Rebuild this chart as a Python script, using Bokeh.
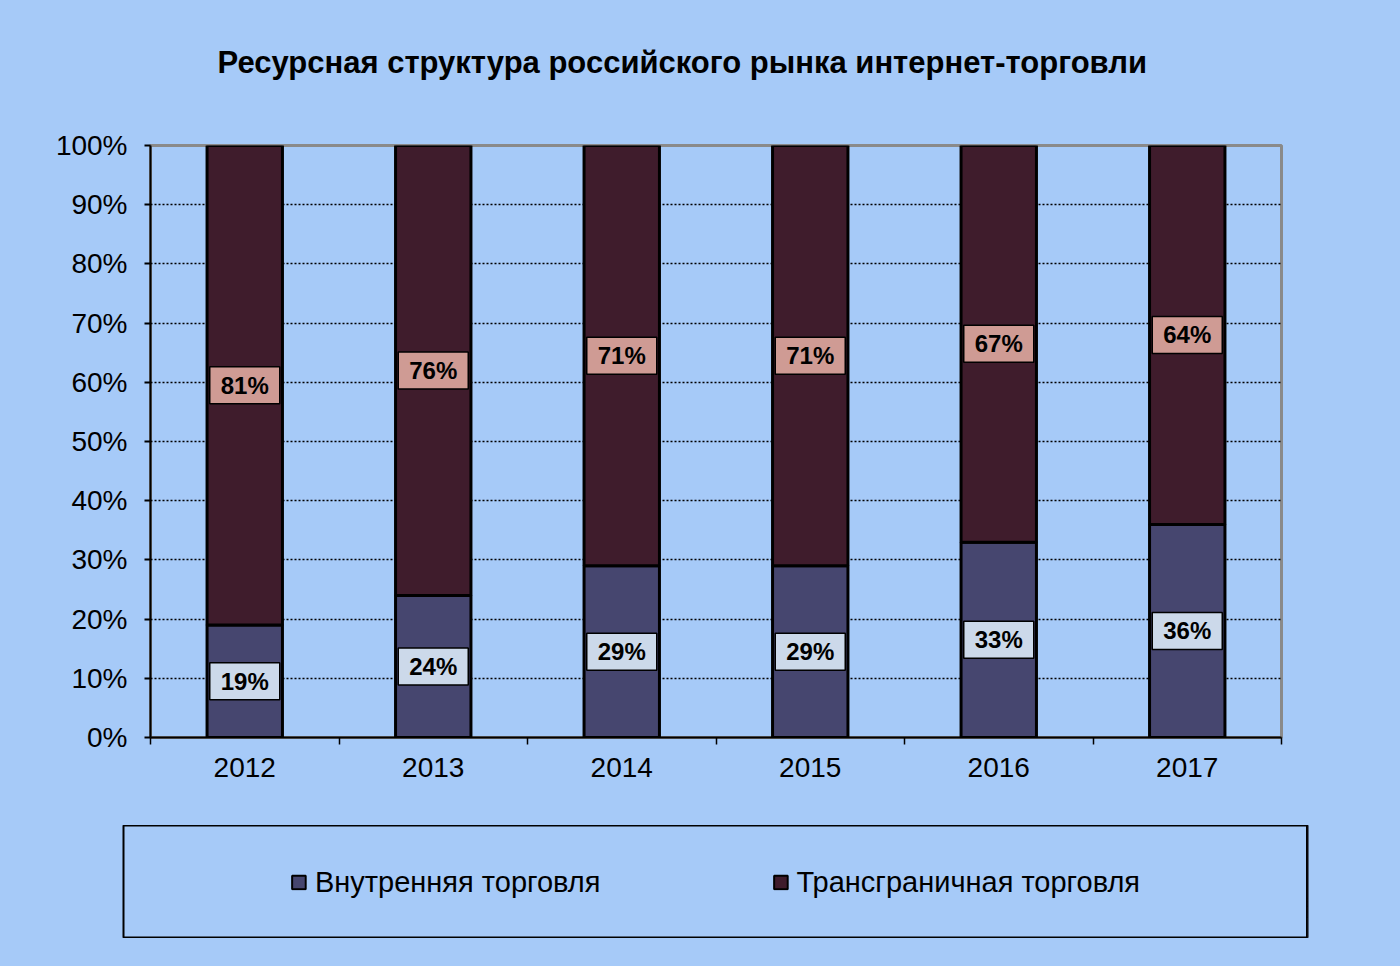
from bokeh.plotting import figure
from bokeh.models import Range1d, FixedTicker, ColumnDataSource, Legend, LegendItem, Title
from bokeh.layouts import column
from bokeh.core.properties import value
from bokeh.embed import file_html
from bokeh.resources import INLINE

# ---- data ----
years = ["2012", "2013", "2014", "2015", "2016", "2017"]
domestic = [19, 24, 29, 29, 33, 36]
crossborder = [81, 76, 71, 71, 67, 64]
y_ticks = [0, 10, 20, 30, 40, 50, 60, 70, 80, 90, 100]
y_tick_labels = ["0%", "10%", "20%", "30%", "40%", "50%", "60%", "70%", "80%", "90%", "100%"]
series_names = ["Внутренняя торговля", "Трансграничная торговля"]
title_text = "Ресурсная структура российского рынка интернет-торговли"

# ---- styles ----
BG = "#A6CAF8"
DOM = "#46466F"
CROSS = "#3F1C2C"
DOM_LBL = "#CCD9EA"
CROSS_LBL = "#CF9B94"
FONT = "Liberation Sans"

BORDER_L, BORDER_R = 150, 93

xs = [i + 0.5 for i in range(len(years))]
src = ColumnDataSource(dict(
    x=xs,
    dom=domestic,
    top=[d + c for d, c in zip(domestic, crossborder)],
    dom_mid=[d / 2 for d in domestic],
    cross_mid=[d + c / 2 for d, c in zip(domestic, crossborder)],
    dom_lbl=[f"{d}%" for d in domestic],
    cross_lbl=[f"{c}%" for c in crossborder],
))

p = figure(width=1281 + BORDER_R, height=815, x_range=Range1d(0, len(years)),
           y_range=Range1d(0, 100), output_backend="svg", toolbar_location=None,
           min_border_left=BORDER_L, min_border_right=BORDER_R, min_border_top=145,
           min_border_bottom=78, title=title_text)
p.background_fill_color = BG
p.border_fill_color = BG
p.outline_line_color = "#8A8A8A"
p.outline_line_width = 3

p.title.align = "left"
p.title.offset = 67
p.title.standoff = 10
p.title.text_font = FONT
p.title.text_font_size = "31px"
p.title.text_font_style = "bold"
p.title.text_color = "black"
# blank spacer panel between the title and the plot area
p.add_layout(Title(text=" ", text_font_size="1px", standoff=58), "above")

# bars
p.vbar(x="x", bottom=0, top="dom", width=0.4, fill_color=DOM, line_color="black",
       line_width=3, source=src)
p.vbar(x="x", bottom="dom", top="top", width=0.4, fill_color=CROSS, line_color="black",
       line_width=3, source=src)

# value labels
p.rect(x="x", y="dom_mid", width=70, height=37, width_units="screen", height_units="screen",
       fill_color=DOM_LBL, line_color="black", line_width=1.5, source=src)
p.rect(x="x", y="cross_mid", width=70, height=37, width_units="screen", height_units="screen",
       fill_color=CROSS_LBL, line_color="black", line_width=1.5, source=src)
for col in (("dom_mid", "dom_lbl"), ("cross_mid", "cross_lbl")):
    p.text(x="x", y=col[0], text=col[1], source=src, text_align="center",
           text_baseline="middle", text_font=value(FONT), text_font_style="bold",
           text_font_size="24px", text_color="black")

# axes
p.yaxis.ticker = FixedTicker(ticks=y_ticks)
p.yaxis.major_label_overrides = {t: l for t, l in zip(y_ticks, y_tick_labels)}
p.yaxis.minor_tick_line_color = None
p.yaxis.major_tick_in = 0
p.yaxis.major_tick_out = 6
p.yaxis.major_tick_line_width = 2
p.yaxis.major_label_standoff = 17
p.xaxis.ticker = FixedTicker(ticks=xs, minor_ticks=list(range(len(years) + 1)))
p.xaxis.major_label_overrides = {x: y for x, y in zip(xs, years)}
p.xaxis.major_tick_line_color = None
p.xaxis.minor_tick_in = 0
p.xaxis.minor_tick_out = 7
p.xaxis.minor_tick_line_color = "black"
p.xaxis.minor_tick_line_width = 1.5
p.xaxis.major_label_standoff = 13
for ax in (p.xaxis[0], p.yaxis[0]):
    ax.axis_line_color = "black"
    ax.axis_line_width = 2
    ax.major_label_text_font = FONT
    ax.major_label_text_font_size = "28px"
    ax.major_label_text_color = "black"

p.xgrid.grid_line_color = None
p.ygrid.ticker = FixedTicker(ticks=y_ticks[1:-1])
p.ygrid.grid_line_color = "black"
p.ygrid.grid_line_dash = "2 2"
p.ygrid.grid_line_width = 1.5

# legend panel: the column aligns its borders with the chart's, so its frame
# (the legend box, 1184 px wide starting at x=123) is placed by a negative margin.
# Its proxy bar renderers lie far outside its visible x range.
LEG_W, LEG_X = 1184, 123
LF_W = LEG_W + BORDER_L + BORDER_R
lf = figure(width=LF_W, height=113,
            x_range=Range1d(-2 * len(years), -len(years)), y_range=Range1d(0, 100),
            output_backend="svg", toolbar_location=None, x_axis_type=None, y_axis_type=None,
            min_border_left=BORDER_L, min_border_right=BORDER_R, min_border_top=0,
            min_border_bottom=0, margin=(10, 0, 0, LEG_X - BORDER_L))
lf.background_fill_color = BG
lf.border_fill_color = BG
lf.outline_line_color = "black"
lf.outline_line_width = 2
lf.xgrid.grid_line_color = None
lf.ygrid.grid_line_color = None
r1 = lf.vbar(x="x", bottom=0, top="dom", width=0.4, fill_color=DOM, line_color="black",
             line_width=2, source=src)
r2 = lf.vbar(x="x", bottom="dom", top="top", width=0.4, fill_color=CROSS, line_color="black",
             line_width=2, source=src)
leg = Legend(items=[LegendItem(label=series_names[0], renderers=[r1]),
                    LegendItem(label=series_names[1], renderers=[r2])],
             orientation="horizontal", location="center", spacing=171, padding=0,
             glyph_width=17, glyph_height=17, label_standoff=8,
             label_text_font=FONT, label_text_font_size="29px", label_text_color="black",
             border_line_color=None, background_fill_alpha=0)
lf.add_layout(leg, "center")

layout = column(p, lf, width=LF_W)
html = file_html(layout, INLINE)
html = html.replace("</head>",
                    "<style>html, body { background-color: %s; overflow: hidden; }</style></head>" % BG, 1)
open("out.html", "w").write(html)
